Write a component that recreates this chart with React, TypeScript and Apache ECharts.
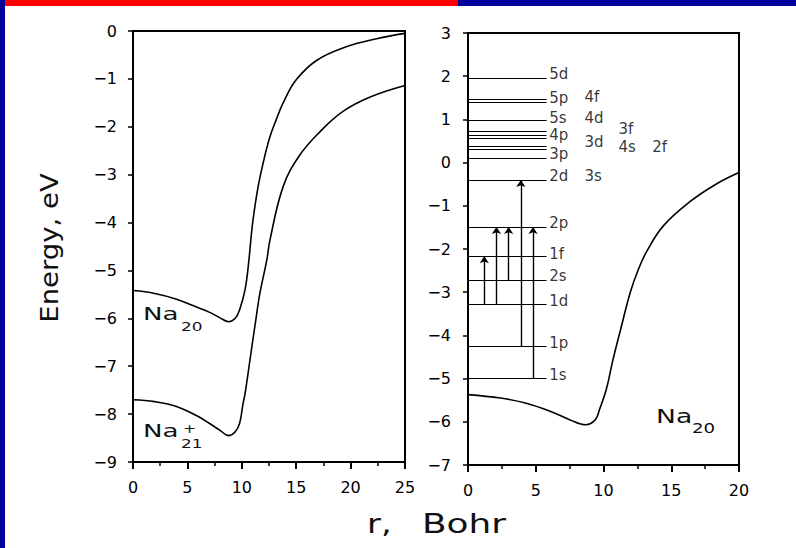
import { useEffect, useRef } from "react";
import * as echarts from "echarts";

const FONT = "DejaVu Sans";

// Left panel: Na20 and Na21+ potentials (r in Bohr, E in eV)
const leftNa20R = [0, 2, 4, 6, 7, 8, 8.8, 9.4, 9.8, 10.3, 10.6, 11.0, 11.5, 12.0, 12.6, 13.2, 13.8, 15.0, 16.9, 19.6, 22.4, 25];
const leftNa20E = [-5.42, -5.48, -5.6, -5.78, -5.87, -5.99, -6.07, -6.0, -5.82, -5.4, -4.9, -4.0, -3.25, -2.72, -2.2, -1.83, -1.5, -1.02, -0.61, -0.33, -0.16, -0.05];

const leftNa21R = [0, 2, 4, 6, 7, 8, 8.8, 9.4, 9.8, 10.1, 10.3, 10.75, 11.2, 11.67, 12.3, 12.6, 13.8, 15.3, 17.2, 19.3, 21.8, 25];
const leftNa21E = [-7.7, -7.74, -7.84, -8.05, -8.19, -8.34, -8.45, -8.37, -8.19, -7.8, -7.57, -6.87, -6.17, -5.47, -4.78, -4.35, -3.25, -2.6, -2.1, -1.68, -1.38, -1.14];

// Right panel: Na20 potential
const rightNa20R = [0, 2.4, 4.3, 6.1, 7.5, 8.7, 9.4, 9.7, 10.2, 10.7, 11.2, 12.0, 12.6, 13.2, 14.4, 16.4, 18.3, 20];
const rightNa20E = [-5.37, -5.45, -5.57, -5.76, -5.95, -6.07, -5.95, -5.72, -5.26, -4.56, -3.94, -2.98, -2.45, -2.05, -1.47, -0.9, -0.5, -0.23];

// Single-particle levels (eV)
const levelE = [1.96, 1.47, 1.39, 0.99, 0.72, 0.64, 0.57, 0.38, 0.3, 0.09, -0.4, -1.49, -2.17, -2.73, -3.29, -4.25, -4.99];
const levelEnd = 5.8;

// Level labels
const levelLabels = ["5d", "5p", "4f", "5s", "4d", "4p", "3f", "3d", "4s", "2f", "3p", "2d", "3s", "2p", "1f", "2s", "1d", "1p", "1s"];
const labelR = [6.0, 6.0, 8.6, 6.0, 8.6, 6.0, 11.1, 8.6, 11.1, 13.6, 6.0, 6.0, 8.6, 6.0, 6.0, 6.0, 6.0, 6.0, 6.0];
const labelE = [2.05, 1.5, 1.51, 1.04, 1.04, 0.65, 0.78, 0.48, 0.36, 0.36, 0.19, -0.3, -0.3, -1.4, -2.11, -2.63, -3.21, -4.18, -4.91];

// Transitions (arrows)
const arrowR = [1.2, 2.1, 3.0, 3.9, 4.8];
const arrowFrom = [-3.29, -3.29, -2.73, -4.25, -4.99];
const arrowTo = [-2.17, -1.49, -1.49, -0.4, -1.49];

const leftXTicks = { min: 0, max: 25, interval: 5 };
const rightXTicks = { min: 0, max: 20, interval: 5 };
const leftYTicks = { min: -9, max: 0, interval: 1 };
const rightYTicks = { min: -7, max: 3, interval: 1 };

export default function App() {
  const ref = useRef<HTMLDivElement>(null);
  useEffect(() => {
    const chart = echarts.init(ref.current!, null, { renderer: "svg" });
    const pair = (r: number[], e: number[]) => r.map((x, i) => [x, e[i]]);
    const fmt = (v: number) => String(v).replace("-", "\u2212");
    const black = "#000";
    const xAxisBase = (gridIndex: number, t: any) => ({
      gridIndex,
      type: "value",
      ...t,
      axisLine: { show: true, onZero: false, lineStyle: { color: black, width: 2 } },
      axisTick: { show: true, inside: false, length: 7, lineStyle: { color: black, width: 2 } },
      minorTick: { show: true, splitNumber: 2, length: 4, lineStyle: { color: black, width: 1.5 } },
      splitLine: { show: false },
      axisLabel: { color: black, fontSize: 16, fontFamily: FONT, margin: 17 },
    });
    const yAxisBase = (gridIndex: number, t: any, margin: number) => ({
      gridIndex,
      type: "value",
      ...t,
      axisLine: { show: true, onZero: false, lineStyle: { color: black, width: 2 } },
      axisTick: { show: true, inside: false, length: 5, lineStyle: { color: black, width: 1.5 } },
      splitLine: { show: false },
      axisLabel: { color: black, fontSize: 16, fontFamily: FONT, margin, formatter: fmt },
    });
    const curve = (data: number[][], xi: number) => ({
      type: "line",
      xAxisIndex: xi,
      yAxisIndex: xi,
      data,
      smooth: 0.4,
      symbol: "none",
      silent: true,
      lineStyle: { color: black, width: 1.6 },
    });
    const text = (t: string, x: number, y: number, size: number, sx = 1) => ({
      type: "text",
      x,
      y,
      scaleX: sx,
      silent: true,
      style: { text: t, fontSize: size, fontFamily: FONT, fill: "#111", align: "left", verticalAlign: "middle" },
    });

    chart.setOption({
      animation: false,
      backgroundColor: "#fff",
      grid: [
        { left: 133, top: 31, width: 272, height: 431, show: true, borderColor: black, borderWidth: 2, backgroundColor: "transparent", outerBoundsMode: "none" },
        { left: 468, top: 33, width: 271, height: 432, show: true, borderColor: black, borderWidth: 2, backgroundColor: "transparent", outerBoundsMode: "none" },
      ],
      xAxis: [xAxisBase(0, leftXTicks), xAxisBase(1, rightXTicks)],
      yAxis: [yAxisBase(0, leftYTicks, 16), yAxisBase(1, rightYTicks, 17)],
      series: [
        curve(pair(leftNa20R, leftNa20E), 0),
        curve(pair(leftNa21R, leftNa21E), 0),
        curve(pair(rightNa20R, rightNa20E), 1),
        {
          type: "lines",
          coordinateSystem: "cartesian2d",
          xAxisIndex: 1,
          yAxisIndex: 1,
          silent: true,
          data: levelE.map((e) => ({ coords: [[0, e], [levelEnd, e]] })),
          lineStyle: { color: black, width: 1.2, opacity: 1 },
        },
        {
          type: "lines",
          coordinateSystem: "cartesian2d",
          xAxisIndex: 1,
          yAxisIndex: 1,
          silent: true,
          symbol: ["none", "arrow"],
          symbolSize: 7,
          data: arrowR.map((r, i) => ({ coords: [[r, arrowFrom[i]], [r, arrowTo[i]]] })),
          lineStyle: { color: black, width: 1.4, opacity: 1 },
        },
        {
          type: "scatter",
          xAxisIndex: 1,
          yAxisIndex: 1,
          silent: true,
          symbolSize: 0,
          data: levelLabels.map((t, i) => [labelR[i], labelE[i], t]),
          itemStyle: { color: "transparent" },
          label: {
            show: true,
            position: "right",
            distance: 0,
            formatter: (p: any) => p.value[2],
            color: black,
            fontSize: 15,
            fontFamily: FONT,
          },
        },
      ],
      graphic: [
        { type: "rect", silent: true, shape: { x: 0, y: 0, width: 458, height: 6 }, style: { fill: "#ff0000" } },
        { type: "rect", silent: true, shape: { x: 458, y: 0, width: 338, height: 6 }, style: { fill: "#00009c" } },
        { type: "rect", silent: true, shape: { x: 0, y: 0, width: 5, height: 548 }, style: { fill: "#00009c" } },
        // Left panel labels
        text("Na", 143, 314, 18, 1.45),
        text("20", 181, 327, 13, 1.3),
        text("Na", 143, 431, 18, 1.45),
        text("+", 183, 428, 13, 1.2),
        text("21", 181, 444, 13, 1.3),
        // Right panel label
        text("Na", 656, 416, 19, 1.4),
        text("20", 692, 428, 14, 1.3),
        // Axis titles
        {
          type: "text",
          x: 49,
          y: 248,
          rotation: Math.PI / 2,
          scaleX: 1.1,
          silent: true,
          style: { text: "Energy, eV", fontSize: 25, fontFamily: FONT, fill: "#111", align: "center", verticalAlign: "middle" },
        },
        text("r,", 367, 524, 26, 1.3),
        text("Bohr", 422, 524, 26, 1.38),
      ],
    });
    return () => chart.dispose();
  }, []);
  return <div ref={ref} style={{ position: "absolute", left: 0, top: 0, width: 796, height: 548 }} />;
}
